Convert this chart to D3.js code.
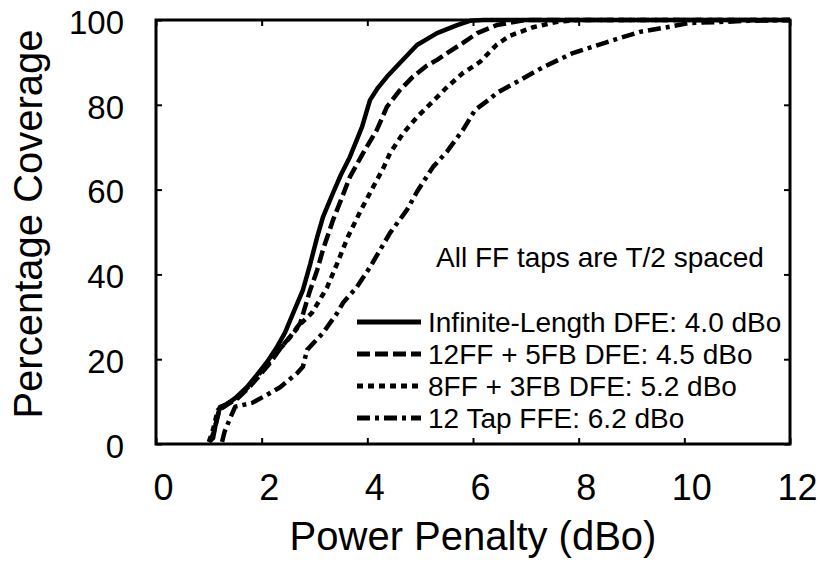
<!DOCTYPE html>
<html>
<head>
<meta charset="utf-8">
<script src="https://cdn.jsdelivr.net/npm/d3@7"></script>
<style>
  body { margin: 0; background: #fff; }
  text { font-family: "Liberation Sans", Arial, Helvetica, sans-serif; fill: #000; }
</style>
</head>
<body>
<div id="chart"></div>
<script>
// Power penalty (dBo) vs percentage coverage, one array per equalizer
const infiniteDFE = [[1.0,0.5],[1.08,1.4],[1.15,6],[1.21,8.7],[1.34,9.4],[1.5,10.8],[1.72,13.4],[1.91,16.3],[2.1,19.3],[2.29,22.9],[2.44,26.2],[2.6,31],[2.78,36.3],[2.92,42.5],[3.05,48.8],[3.16,53.5],[3.26,56.5],[3.35,59.2],[3.5,63.5],[3.67,67.7],[3.9,74.8],[4.05,81.1],[4.2,84],[4.37,86.6],[4.62,89.9],[4.94,94.1],[5.32,96.9],[5.7,98.8],[5.94,99.8],[6.2,100],[12,100]];
const dfe12ff5fb = [[1.02,0.5],[1.1,3],[1.2,8],[1.35,9.3],[1.55,10.8],[1.75,13.2],[1.95,16],[2.15,19],[2.35,22.5],[2.55,25.5],[2.73,28.5],[2.91,36],[3.05,41],[3.16,45.8],[3.35,52.8],[3.5,57.5],[3.67,63],[3.92,68.6],[4.18,74.1],[4.37,79.5],[4.62,83.5],[4.86,86.6],[5.1,89],[5.32,90.6],[5.51,92.2],[5.81,94.6],[6.08,96.9],[6.45,98.8],[7.0,100],[12,100]];
const dfe8ff3fb = [[1.0,0.5],[1.07,3],[1.17,8],[1.35,9.5],[1.55,11],[1.75,13.5],[1.95,16.5],[2.15,19.5],[2.35,22.5],[2.54,25.2],[2.75,28.5],[2.95,30.9],[3.1,34],[3.24,37],[3.43,42.6],[3.63,48.8],[3.86,54.7],[4.11,60.6],[4.3,65],[4.43,68.6],[4.68,73.3],[4.94,77.1],[5.24,80.8],[5.51,84.2],[5.81,87.5],[6.13,90.1],[6.45,94.2],[6.7,96.3],[7.14,98.3],[7.6,99.6],[8.0,100],[12,100]];
const ffe12tap = [[1.25,0.5],[1.3,3],[1.4,6],[1.5,8.8],[1.82,9.7],[2.1,11.6],[2.35,13.4],[2.67,16.7],[2.78,18.2],[2.86,22.2],[3.16,26.2],[3.43,30.9],[3.54,33.3],[3.8,37.0],[4.05,41.7],[4.43,49.8],[4.75,55.2],[4.94,59.5],[5.24,65.3],[5.51,69],[5.81,74.1],[6.04,78.8],[6.3,81.2],[6.45,82.8],[6.83,85.4],[7.33,88.9],[7.89,92.2],[8.54,94.8],[9.16,97.2],[9.67,98.3],[10.1,99.3],[10.6,99.5],[11.2,99.8],[12,100]];

const seriesNames = ['Infinite-Length DFE: 4.0 dBo', '12FF + 5FB DFE: 4.5 dBo', '8FF + 3FB DFE: 5.2 dBo', '12 Tap FFE: 6.2 dBo'];
const xTicks = [0, 2, 4, 6, 8, 10, 12];
const yTicks = [0, 20, 40, 60, 80, 100];

const series = [
    { name: seriesNames[0], values: infiniteDFE, dash: null },
    { name: seriesNames[1], values: dfe12ff5fb, dash: '13 5' },
    { name: seriesNames[2], values: dfe8ff3fb, dash: '6 5' },
    { name: seriesNames[3], values: ffe12tap, dash: '13 5 4 5' }
];

const W = 820, H = 563;
const margin = { top: 20, right: 30, bottom: 119, left: 156 };
const width = W - margin.left - margin.right;
const height = H - margin.top - margin.bottom;

const svg = d3.select('#chart').append('svg')
    .attr('width', W).attr('height', H)
    .append('g')
    .attr('transform', `translate(${margin.left},${margin.top})`);

const x = d3.scaleLinear().domain([0, 12]).range([0, width]);
const y = d3.scaleLinear().domain([0, 100]).range([height, 0]);

// curves
const line = d3.line().x(d => x(d[0])).y(d => y(d[1]));
const plot = svg.append('g');
series.forEach(s => {
    plot.append('path')
        .datum(s.values)
        .attr('fill', 'none')
        .attr('stroke', '#000')
        .attr('stroke-width', 4.5)
        .attr('stroke-linejoin', 'round')
        .attr('stroke-dasharray', s.dash)
        .attr('d', line);
});

// axes, ticks inside on all four sides
function styleAxis(g) {
    g.select('.domain').remove();
    g.selectAll('.tick line').attr('stroke', '#000').attr('stroke-width', 2);
}
svg.append('g').attr('transform', `translate(0,${height})`)
    .call(d3.axisBottom(x).tickValues(xTicks).tickSize(-6).tickPadding(30))
    .call(styleAxis)
    .selectAll('text').attr('font-size', 36).attr('dx', 7);
svg.append('g')
    .call(d3.axisTop(x).tickValues(xTicks).tickSize(-6).tickFormat(''))
    .call(styleAxis);
svg.append('g')
    .call(d3.axisLeft(y).tickValues(yTicks).tickSize(-6).tickPadding(32))
    .call(styleAxis)
    .selectAll('text').attr('font-size', 33).attr('dy', '0.4em');
svg.append('g').attr('transform', `translate(${width},0)`)
    .call(d3.axisRight(y).tickValues(yTicks).tickSize(-6).tickFormat(''))
    .call(styleAxis);

svg.append('rect')
    .attr('width', width).attr('height', height)
    .attr('fill', 'none').attr('stroke', '#000').attr('stroke-width', 3);

// axis titles
svg.append('text')
    .attr('x', width / 2).attr('y', height + 106)
    .attr('text-anchor', 'middle').attr('font-size', 40)
    .text('Power Penalty (dBo)');
svg.append('text')
    .attr('transform', 'rotate(-90)')
    .attr('x', -height / 2 + 8).attr('y', -margin.left + 42)
    .attr('text-anchor', 'middle').attr('font-size', 40)
    .text('Percentage Coverage');

// legend
svg.append('text')
    .attr('x', 444).attr('y', 247)
    .attr('text-anchor', 'middle').attr('font-size', 28)
    .text('All FF taps are T/2 spaced');

const legend = svg.append('g').attr('transform', 'translate(201,312)');
series.forEach((s, i) => {
    const row = legend.append('g').attr('transform', `translate(0,${i * 32})`);
    row.append('line')
        .attr('x1', 0).attr('x2', 64).attr('y1', -10).attr('y2', -10)
        .attr('stroke', '#000').attr('stroke-width', 5)
        .attr('stroke-dasharray', s.dash);
    row.append('text')
        .attr('x', 71).attr('y', 0)
        .attr('font-size', 28)
        .text(s.name);
});
</script>
</body>
</html>
